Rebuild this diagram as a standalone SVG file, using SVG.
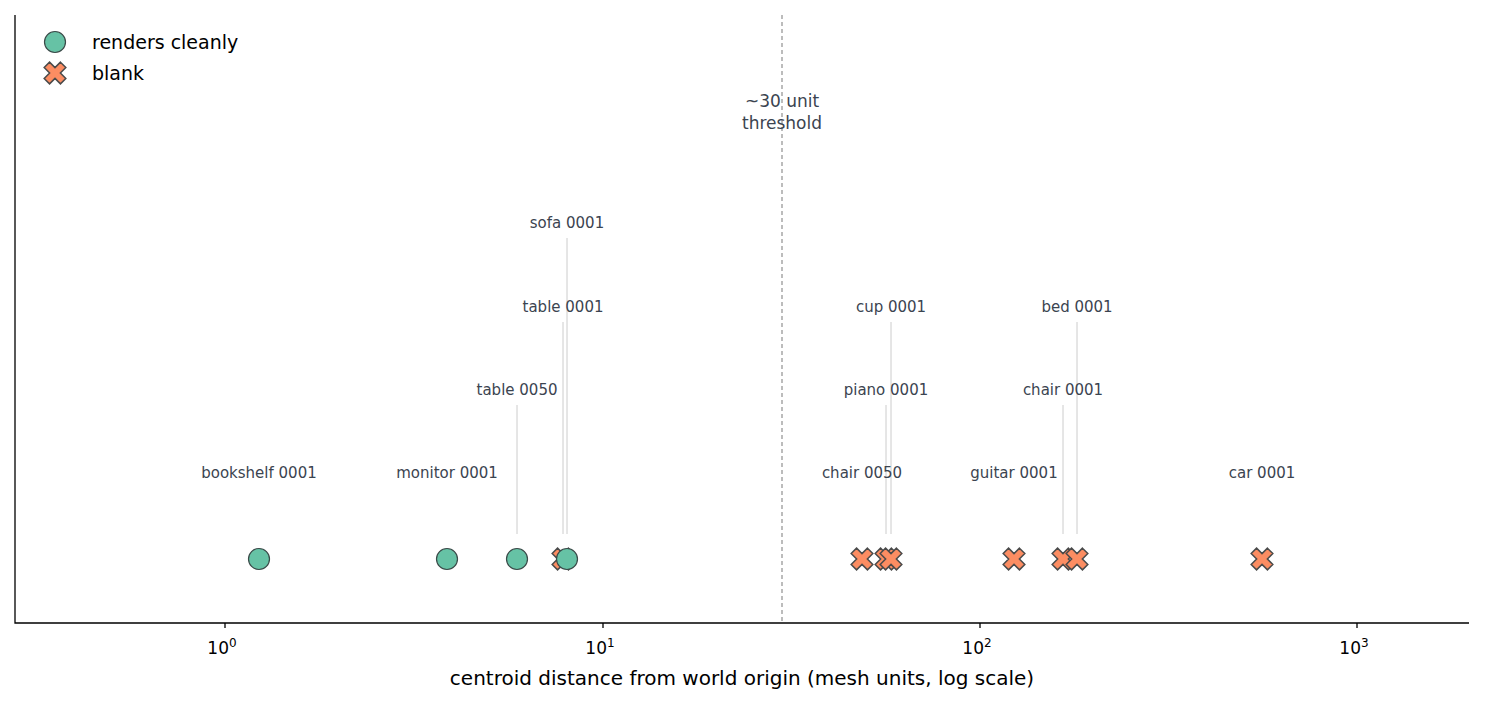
<svg xmlns="http://www.w3.org/2000/svg" width="1485" height="705" viewBox="0 0 1485 705">
<style>
text{font-family:"DejaVu Sans",sans-serif}
.lbl{font-size:15px;fill:#3b4450;text-anchor:middle}
.tk{font-size:17px;fill:#000;text-anchor:middle}
.lead{stroke:#cccccc;stroke-width:1}
.ok{fill:#66c2a5;stroke:#3a4a48;stroke-width:1.2}
.bad{fill:#fc8d62;stroke:#4a4a4a;stroke-width:1.5}
</style>
<defs>
<path id="X" d="M-3.8,-11.5H3.8V-3.8H11.5V3.8H3.8V11.5H-3.8V3.8H-11.5V-3.8H-3.8Z" transform="rotate(45)"/>
</defs>
<rect width="1485" height="705" fill="#fff"/>
<g id="axes" stroke="#000" stroke-width="1.3" fill="none">
<path d="M15,15V623H1469"/>
<path d="M225,623v5M603,623v5M980,623v5M1357,623v5"/>
</g>
<g id="ticks">
<text class="tk" x="222" y="654">10<tspan font-size="12" dy="-7">0</tspan></text>
<text class="tk" x="600" y="654">10<tspan font-size="12" dy="-7">1</tspan></text>
<text class="tk" x="977" y="654">10<tspan font-size="12" dy="-7">2</tspan></text>
<text class="tk" x="1354" y="654">10<tspan font-size="12" dy="-7">3</tspan></text>
<text x="742" y="685" font-size="20" text-anchor="middle">centroid distance from world origin (mesh units, log scale)</text>
</g>
<g id="threshold">
<line x1="782" y1="15" x2="782" y2="623" stroke="#999" stroke-width="1.3" stroke-dasharray="4,3"/>
<text class="lbl" font-size="17" x="782" y="107" style="font-size:17px">~30 unit</text>
<text class="lbl" x="782" y="129" style="font-size:17px">threshold</text>
</g>
<g id="connectors">
<line class="lead" x1="517" y1="405" x2="517" y2="534"/>
<line class="lead" x1="563" y1="322" x2="563" y2="534"/>
<line class="lead" x1="567" y1="238" x2="567" y2="534"/>
<line class="lead" x1="886" y1="405" x2="886" y2="534"/>
<line class="lead" x1="891" y1="322" x2="891" y2="534"/>
<line class="lead" x1="1063" y1="405" x2="1063" y2="534"/>
<line class="lead" x1="1077" y1="322" x2="1077" y2="534"/>
</g>
<g id="labels">
<text class="lbl" x="259" y="478">bookshelf 0001</text>
<text class="lbl" x="447" y="478">monitor 0001</text>
<text class="lbl" x="517" y="395">table 0050</text>
<text class="lbl" x="563" y="312">table 0001</text>
<text class="lbl" x="567" y="228">sofa 0001</text>
<text class="lbl" x="862" y="478">chair 0050</text>
<text class="lbl" x="886" y="395">piano 0001</text>
<text class="lbl" x="891" y="312">cup 0001</text>
<text class="lbl" x="1014" y="478">guitar 0001</text>
<text class="lbl" x="1063" y="395">chair 0001</text>
<text class="lbl" x="1077" y="312">bed 0001</text>
<text class="lbl" x="1262" y="478">car 0001</text>
</g>
<g id="points">
<circle id="bookshelf" class="ok" cx="259" cy="559" r="10.5"/>
<circle id="monitor" class="ok" cx="447" cy="559" r="10.5"/>
<circle id="table0050" class="ok" cx="517" cy="559" r="10.5"/>
<use id="table0001" href="#X" class="bad" x="563" y="559"/>
<circle id="sofa" class="ok" cx="567" cy="559" r="10.5"/>
<use id="chair0050" href="#X" class="bad" x="862" y="559"/>
<use id="piano" href="#X" class="bad" x="886" y="559"/>
<use id="cup" href="#X" class="bad" x="891" y="559"/>
<use id="guitar" href="#X" class="bad" x="1014" y="559"/>
<use id="chair0001" href="#X" class="bad" x="1063" y="559"/>
<use id="bed" href="#X" class="bad" x="1077" y="559"/>
<use id="car" href="#X" class="bad" x="1262" y="559"/>
</g>
<g id="legend">
<circle class="ok" cx="55" cy="42" r="10.5"/>
<use href="#X" class="bad" x="55" y="73"/>
<text x="92" y="49" font-size="19">renders cleanly</text>
<text x="92" y="80" font-size="19">blank</text>
</g>
</svg>
